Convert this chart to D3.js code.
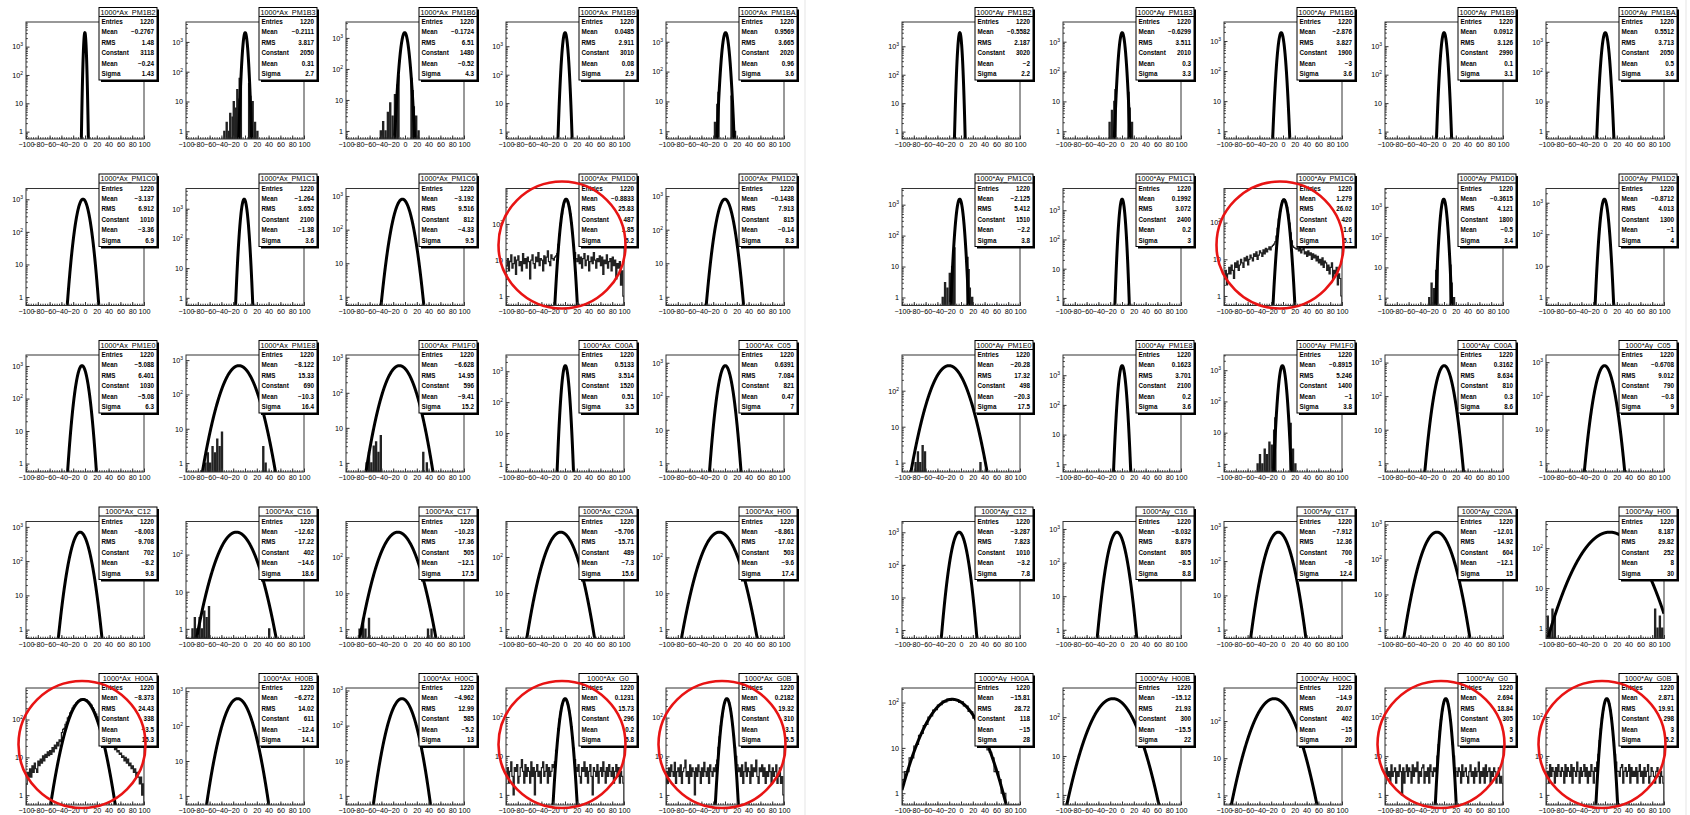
<!DOCTYPE html>
<html>
<head>
<meta charset="utf-8">
<script src="https://cdn.jsdelivr.net/npm/d3@7"></script>
<style>
  body { margin: 0; background: #fff; }
  text { font-family: "Liberation Sans", Arial, sans-serif; fill: #000; }
</style>
</head>
<body>
<svg id="canvas" width="1690" height="815"></svg>
<script>
// ---- panel titles ----
const axTitles = ["1000*Ax_PM1B2", "1000*Ax_PM1B3", "1000*Ax_PM1B6", "1000*Ax_PM1B9", "1000*Ax_PM1BA",
  "1000*Ax_PM1C0", "1000*Ax_PM1C1", "1000*Ax_PM1C6", "1000*Ax_PM1D0", "1000*Ax_PM1D2",
  "1000*Ax_PM1E0", "1000*Ax_PM1E8", "1000*Ax_PM1F0", "1000*Ax_C00A", "1000*Ax_C05",
  "1000*Ax_C12", "1000*Ax_C16", "1000*Ax_C17", "1000*Ax_C20A", "1000*Ax_H00",
  "1000*Ax_H00A", "1000*Ax_H00B", "1000*Ax_H00C", "1000*Ax_G0", "1000*Ax_G0B"];
const ayTitles = ["1000*Ay_PM1B2", "1000*Ay_PM1B3", "1000*Ay_PM1B6", "1000*Ay_PM1B9", "1000*Ay_PM1BA",
  "1000*Ay_PM1C0", "1000*Ay_PM1C1", "1000*Ay_PM1C6", "1000*Ay_PM1D0", "1000*Ay_PM1D2",
  "1000*Ay_PM1E0", "1000*Ay_PM1E8", "1000*Ay_PM1F0", "1000*Ay_C00A", "1000*Ay_C05",
  "1000*Ay_C12", "1000*Ay_C16", "1000*Ay_C17", "1000*Ay_C20A", "1000*Ay_H00",
  "1000*Ay_H00A", "1000*Ay_H00B", "1000*Ay_H00C", "1000*Ay_G0", "1000*Ay_G0B"];

// ---- stats: entries, histogram mean, RMS ----
const axEntries = [1220, 1220, 1220, 1220, 1220, 1220, 1220, 1220, 1220, 1220, 1220, 1220, 1220, 1220, 1220,
  1220, 1220, 1220, 1220, 1220, 1220, 1220, 1220, 1220, 1220];
const axHMean = [-0.2767, -0.2111, -0.1724, 0.0485, 0.9569, -3.137, -1.264, -3.192, -0.8833, -0.1438,
  -5.088, -8.122, -6.628, 0.5133, 0.6391, -8.003, -12.62, -10.23, -5.706, -8.861,
  -8.373, -6.272, -4.962, 0.1231, 0.2182];
const axRMS = [1.480, 3.817, 6.510, 2.911, 3.665, 6.912, 3.652, 9.516, 25.83, 7.913,
  6.401, 15.33, 14.95, 3.514, 7.084, 9.708, 17.22, 17.36, 15.71, 17.02,
  24.43, 14.02, 12.99, 15.73, 19.32];
const ayEntries = axEntries;
const ayHMean = [-0.5582, -0.6299, -2.876, 0.0912, 0.5512, -2.125, 0.1992, 1.279, -0.3615, -0.8712,
  -20.28, 0.1623, -0.8915, 0.3162, -0.6708, -3.287, -8.032, -7.912, -12.01, 8.187,
  -15.81, -15.12, -14.90, 2.694, 2.871];
const ayRMS = [2.187, 3.511, 3.827, 3.126, 3.713, 5.412, 3.072, 26.02, 4.121, 4.013,
  17.32, 3.701, 5.246, 8.634, 9.012, 7.823, 8.879, 12.36, 14.92, 29.82,
  28.72, 21.93, 20.07, 18.84, 19.91];

// ---- gaussian fit results: Constant, Mean, Sigma ----
const axConst = [3118, 2050, 1480, 3010, 2020, 1010, 2100, 812, 487, 815,
  1030, 690, 596, 1520, 821, 702, 402, 505, 489, 503,
  338, 611, 585, 296, 310];
const axMean = [-0.24, 0.31, -0.52, 0.08, 0.96, -3.36, -1.38, -4.33, 1.85, -0.14,
  -5.08, -10.3, -9.41, 0.51, 0.47, -8.2, -14.6, -12.1, -7.3, -9.6,
  -3.5, -12.4, -5.2, 0.2, 3.1];
const axSigma = [1.43, 2.7, 4.3, 2.9, 3.6, 6.9, 3.6, 9.5, 5.2, 8.3,
  6.3, 16.4, 15.2, 3.5, 7.0, 9.8, 18.6, 17.5, 15.6, 17.4,
  15.3, 14.1, 13.0, 5.8, 5.5];
const ayConst = [3020, 2010, 1900, 2990, 2050, 1510, 2400, 420, 1800, 1300,
  498, 2100, 1400, 810, 790, 1010, 805, 700, 604, 252,
  118, 300, 402, 305, 298];
const ayMean = [-2.0, 0.3, -3.0, 0.1, 0.5, -2.2, 0.2, 1.6, -0.5, -1.0,
  -20.3, 0.2, -1.0, 0.3, -0.8, -3.2, -8.5, -8.0, -12.1, 8.0,
  -15.0, -15.5, -15.0, 3.0, 3.0];
const aySigma = [2.2, 3.3, 3.6, 3.1, 3.6, 3.8, 3.0, 5.1, 3.4, 4.0,
  17.5, 3.6, 3.8, 8.6, 9.0, 7.8, 8.8, 12.4, 15.0, 30.0,
  28.0, 22.0, 20.0, 5.0, 5.2];

// ---- histogram contents where they show outside the fit ----
// full histograms, equal bins over -100..100
const histAx8 = [7, 11, 5, 9, 14, 6, 8, 12, 4, 10, 13, 7, 9, 5, 15, 8, 11, 6, 12, 9,
  3, 10, 14, 8, 6, 12, 9, 16, 7, 11, 10, 5, 13, 8, 12, 18, 9, 7, 14, 11,
  10, 12, 13, 15, 27, 52, 105, 190, 297, 410, 480, 480, 410, 297, 192, 108, 55, 26, 16, 11,
  9, 14, 8, 12, 6, 11, 15, 7, 10, 13, 5, 9, 12, 8, 16, 10, 6, 11, 9, 13,
  7, 12, 4, 10, 8, 14, 6, 9, 11, 5, 12, 7, 10, 3, 8, 6, 9, 2, 5, 1];
const histAx20 = [2, 4, 3, 5, 3, 6, 4, 7, 5, 4, 8, 6, 9, 7, 11, 8, 12, 10, 14, 11,
  15, 12, 18, 14, 21, 17, 25, 20, 29, 26, 45, 55, 58, 75, 85, 110, 122, 150, 168, 199,
  225, 244, 272, 290, 318, 326, 345, 348, 356, 344, 338, 331, 306, 288, 259, 240, 207, 186, 157, 139,
  118, 95, 84, 66, 58, 44, 40, 30, 29, 24, 26, 22, 24, 19, 21, 16, 18, 14, 15, 12,
  13, 10, 11, 8, 10, 7, 9, 6, 7, 5, 6, 4, 5, 3, 4, 3, 2, 3, 1, 2];
const histAx23 = [3, 5, 2, 4, 7, 3, 1, 5, 4, 6, 2, 3, 5, 8, 4, 2, 6, 3, 5, 4,
  2, 7, 3, 5, 1, 4, 6, 3, 4, 2, 5, 7, 3, 4, 6, 2, 5, 3, 4, 6,
  5, 7, 14, 25, 50, 88, 140, 198, 255, 290, 294, 263, 210, 148, 94, 57, 29, 16, 8, 5,
  4, 6, 3, 2, 5, 4, 7, 3, 5, 2, 4, 6, 3, 1, 5, 4, 3, 6, 2, 4,
  5, 3, 7, 4, 2, 5, 3, 6, 4, 3, 5, 2, 4, 6, 3, 5, 2, 4, 3, 2];
const histAx24 = [4, 2, 5, 3, 6, 4, 3, 7, 2, 4, 5, 3, 6, 2, 4, 5, 8, 3, 4, 2,
  6, 3, 5, 4, 1, 5, 3, 6, 4, 2, 5, 3, 7, 4, 3, 5, 2, 6, 4, 3, 5,
  4, 6, 8, 17, 32, 61, 105, 168, 235, 288, 310, 292, 241, 175, 110, 65, 35, 17, 10, 6, 4,
  5, 3, 6, 2, 4, 7, 3, 5, 4, 2, 6, 3, 5, 4, 8, 3, 2, 5, 4,
  6, 3, 5, 2, 4, 3, 6, 4, 2, 5, 3, 4, 6, 2, 3, 5, 2, 3, 1];
const histAy7 = [3, 5, 2, 4, 6, 4, 7, 5, 3, 8, 6, 9, 5, 7, 10, 8, 6, 11, 9, 12,
  7, 10, 13, 11, 9, 14, 12, 16, 10, 13, 17, 15, 12, 18, 14, 20, 16, 19, 22, 18,
  22, 24, 26, 30, 43, 70, 124, 205, 300, 390, 437, 425, 357, 260, 167, 97, 53, 32, 23, 21, 20,
  19, 22, 17, 20, 15, 18, 21, 14, 16, 12, 17, 13, 15, 10, 14, 11, 13, 9, 12, 8,
  10, 7, 11, 6, 9, 8, 5, 7, 4, 6, 8, 3, 5, 4, 6, 2, 4, 3, 1];
const histAy20 = [2, 3, 3, 6, 6, 11, 12, 19, 21, 31, 33, 48, 51, 68, 70, 88, 90, 107, 104, 119,
  112, 122, 111, 116, 101, 103, 84, 83, 64, 62, 45, 42, 29, 27, 17, 16, 9, 8, 6, 3,
  3, 2, 1, 1, 0, 0, 0, 0, 0, 0];
const histAy23 = [2, 5, 3, 4, 2, 6, 3, 4, 5, 2, 4, 3, 6, 4, 1, 5, 2, 4, 6, 3,
  5, 4, 2, 6, 3, 5, 4, 7, 2, 4, 3, 5, 6, 2, 4, 3, 5, 2, 6, 4, 3, 5,
  4, 5, 10, 20, 45, 88, 149, 221, 282, 305, 282, 221, 149, 88, 45, 20, 10, 5, 4,
  3, 5, 4, 2, 6, 3, 4, 5, 3, 2, 4, 6, 3, 4, 2, 5, 3, 4, 7, 2,
  4, 3, 5, 2, 6, 3, 4, 5, 2, 4, 3, 5, 4, 2, 3, 5, 2, 3, 2];
const histAy24 = [3, 4, 2, 6, 3, 5, 4, 2, 5, 3, 6, 4, 3, 5, 4, 2, 6, 3, 5, 4,
  3, 6, 2, 5, 4, 3, 7, 4, 2, 5, 3, 4, 6, 3, 5, 2, 4, 3, 6, 4, 2, 5,
  4, 7, 11, 25, 50, 95, 153, 221, 277, 298, 277, 221, 153, 95, 50, 25, 11, 7, 4,
  4, 3, 5, 6, 2, 4, 5, 3, 4, 6, 2, 5, 3, 4, 3, 5, 2, 4, 6, 3,
  4, 2, 5, 3, 4, 6, 2, 3, 5, 4, 3, 2, 4, 5, 3, 2, 4, 3, 2];

// isolated bins (centre, count), bin width 2
const spikesAx1 = [[-35, 1], [-31, 2], [-27, 1], [-25, 4], [-21, 3], [-19, 10], [-15, 6], [-13, 25], [-11, 12],
  [-9, 60], [-7, 30], [7, 40], [9, 15], [11, 6], [13, 10], [17, 2], [21, 1]];
const spikesAx2 = [[-41, 1], [-37, 2], [-33, 1], [-29, 4], [-25, 8], [-21, 3], [-17, 15], [-13, 30], [-11, 60],
  [11, 50], [13, 20], [15, 6], [19, 3], [23, 1]];
const spikesAx4 = [[-17, 2], [-13, 8], [-11, 20], [11, 15], [13, 5], [17, 1]];
const spikesAx11 = [[-67, 1], [-63, 2], [-59, 1], [-55, 3], [-51, 2], [-47, 5], [-43, 3], [-39, 8], [31, 3], [35, 1]];
const spikesAx12 = [[-65, 1], [-61, 2], [-57, 1], [-53, 3], [-49, 4], [-45, 2], [-41, 6], [31, 2], [37, 1]];
const spikesAx16 = [[-89, 1], [-85, 2], [-81, 1], [-77, 2], [-73, 1], [-69, 3], [-65, 2], [-61, 4], [41, 1]];
const spikesAx17 = [[-77, 1], [-71, 2], [-67, 1], [-61, 2], [39, 1], [45, 1]];
const spikesAy1 = [[-21, 2], [-17, 5], [-13, 10], [-11, 25], [11, 20], [13, 6], [17, 2]];
const spikesAy5 = [[-31, 1], [-27, 3], [-23, 2], [-19, 6], [-15, 10], [-13, 25], [-11, 40], [11, 20], [13, 8], [15, 2], [19, 1]];
const spikesAy8 = [[-25, 1], [-21, 3], [-17, 2], [-13, 8], [-11, 15], [11, 12], [13, 3], [17, 1]];
const spikesAy10 = [[-77, 1], [-73, 2], [-69, 1], [-65, 3], [-61, 2], [33, 1]];
const spikesAy12 = [[-43, 1], [-39, 2], [-35, 1], [-31, 3], [-27, 2], [-23, 5], [-19, 4], [-15, 12], [-13, 30],
  [13, 20], [17, 3], [21, 1]];
const spikesAy19 = [[-97, 2], [-93, 1], [-89, 3], [-85, 2], [85, 3], [89, 1], [93, 2], [97, 1]];

const xTicks = [-100, -80, -60, -40, -20, 0, 20, 40, 60, 80, 100];
const circledAx = [8, 20, 23, 24];
const circledAy = [7, 23, 24];

const denseAx = {8: histAx8, 20: histAx20, 23: histAx23, 24: histAx24};
const denseAy = {7: histAy7, 20: histAy20, 23: histAy23, 24: histAy24};
const sparseAx = {1: spikesAx1, 2: spikesAx2, 4: spikesAx4, 11: spikesAx11, 12: spikesAx12, 16: spikesAx16, 17: spikesAx17};
const sparseAy = {1: spikesAy1, 5: spikesAy5, 8: spikesAy8, 10: spikesAy10, 12: spikesAy12, 19: spikesAy19};

const grids = [
  {titles: axTitles, ent: axEntries, hm: axHMean, rms: axRMS, c: axConst, m: axMean, s: axSigma,
   dense: denseAx, sparse: sparseAx, circled: circledAx, left: 26, right: 666},
  {titles: ayTitles, ent: ayEntries, hm: ayHMean, rms: ayRMS, c: ayConst, m: ayMean, s: aySigma,
   dense: denseAy, sparse: sparseAy, circled: circledAy, left: 902, right: 1546}
];

const svg = d3.select("#canvas");
const fW = 118, fH = 117;
const yLow = 0.55;
const rowY = d3.scaleLinear().domain([0, 4]).range([22, 688]);

// faint pad borders of the two canvases
svg.append("line").attr("x1", 805).attr("x2", 805).attr("y1", 0).attr("y2", 815)
  .attr("stroke", "#eeeeee").attr("stroke-width", 1.5);
svg.append("line").attr("x1", 1686).attr("x2", 1686).attr("y1", 0).attr("y2", 815)
  .attr("stroke", "#eeeeee").attr("stroke-width", 1.5);

grids.forEach((grid, gi) => {
  const colX = d3.scaleLinear().domain([0, 4]).range([grid.left, grid.right]);
  d3.range(25).forEach(i => {
    const r = Math.floor(i / 5), c = i % 5;
    const g = svg.append("g").attr("transform", `translate(${colX(c)},${rowY(r)})`);
    drawPanel(g, {
      id: gi + "_" + i,
      title: grid.titles[i], entries: grid.ent[i], hmean: grid.hm[i], rms: grid.rms[i],
      C: grid.c[i], mean: grid.m[i], sigma: grid.s[i],
      dense: grid.dense[i], sparse: grid.sparse[i],
      circled: grid.circled.includes(i)
    });
  });
});

function gauss(p, v) {
  const z = (v - p.mean) / p.sigma;
  return p.C * Math.exp(-0.5 * z * z);
}

function drawPanel(g, p) {
  const x = d3.scaleLinear().domain([-100, 100]).range([0, fW]);
  let maxVal = p.C;
  if (p.dense) maxVal = Math.max(maxVal, d3.max(p.dense));
  if (p.sparse) maxVal = Math.max(maxVal, d3.max(p.sparse, d => d[1]));
  const lo = Math.log10(yLow), hi = Math.log10(maxVal);
  const top = Math.pow(10, hi + 0.1 * (hi - lo));
  const y = d3.scaleLog().domain([yLow, top]).range([fH, 0]);
  const yc = v => y(Math.max(v, yLow * 0.3));

  const clipId = "clip" + p.id;
  g.append("clipPath").attr("id", clipId).append("rect")
    .attr("x", 0).attr("y", 0).attr("width", fW).attr("height", fH);
  const plot = g.append("g").attr("clip-path", `url(#${clipId})`);

  // histogram
  if (p.dense) {
    const w = 200 / p.dense.length;
    let path = `M${x(-100)},${fH}`;
    p.dense.forEach((v, k) => {
      const yy = v > 0 ? yc(v) : fH;
      path += `V${yy}H${x(-100 + (k + 1) * w)}`;
    });
    path += `V${fH}`;
    plot.append("path").attr("d", path).attr("fill", "none")
      .attr("stroke", "#222").attr("stroke-width", 1.2);
  }
  if (p.sparse) {
    plot.selectAll("path.spike").data(p.sparse).join("path")
      .attr("class", "spike")
      .attr("d", d => `M${x(d[0] - 1)},${fH}V${yc(d[1])}H${x(d[0] + 1)}V${fH}`)
      .attr("fill", "none").attr("stroke", "#222").attr("stroke-width", 1.2);
  }

  // gaussian fit curve
  const xs = d3.range(-100, 100.01, 0.25);
  const line = d3.line().x(v => x(v)).y(v => yc(gauss(p, v)));
  plot.append("path").attr("d", line(xs)).attr("fill", "none")
    .attr("stroke", "#000").attr("stroke-width", 3).attr("stroke-linejoin", "round");

  // frame
  g.append("rect").attr("width", fW).attr("height", fH)
    .attr("fill", "none").attr("stroke", "#333").attr("stroke-width", 1);

  // x axis
  const xAxis = g.append("g").attr("transform", `translate(0,${fH})`)
    .call(d3.axisBottom(x).tickValues(xTicks).tickSize(-3.5).tickPadding(3).tickFormat(d3.format("d")));
  xAxis.select(".domain").remove();
  xAxis.selectAll("text").attr("font-size", 7.2).attr("font-family", "Liberation Sans, Arial, sans-serif");
  const xMinor = g.append("g").attr("transform", `translate(0,${fH})`)
    .call(d3.axisBottom(x).tickValues(d3.range(-100, 101, 4)).tickSize(-1.8).tickFormat(""));
  xMinor.select(".domain").remove();

  // y axis (log)
  const decades = d3.range(0, Math.floor(Math.log10(top)) + 1).map(k => Math.pow(10, k));
  const yAxis = g.append("g")
    .call(d3.axisLeft(y).tickValues(decades).tickSize(-3.5).tickPadding(3).tickFormat(d => d));
  yAxis.select(".domain").remove();
  yAxis.selectAll("text").each(function (d) {
    const t = d3.select(this).text("").attr("font-size", 7.2)
      .attr("font-family", "Liberation Sans, Arial, sans-serif");
    const k = Math.round(Math.log10(d));
    if (k === 0) t.text("1");
    else if (k === 1) t.text("10");
    else {
      t.append("tspan").text("10");
      t.append("tspan").attr("dy", -3).attr("font-size", 5).text(k);
    }
  });
  const minors = [];
  for (let k = -1; k <= Math.floor(Math.log10(top)); k++) {
    for (let mm = 2; mm <= 9; mm++) {
      const v = mm * Math.pow(10, k);
      if (v > yLow && v < top) minors.push(v);
    }
  }
  const yMinor = g.append("g")
    .call(d3.axisLeft(y).tickValues(minors).tickSize(-1.8).tickFormat(""));
  yMinor.select(".domain").remove();
  g.selectAll(".tick line").attr("stroke", "#333");

  // stats box
  const bx = fW - 45, by = -14.5, bw = 58, bh = 72.5;
  const box = g.append("g").attr("transform", `translate(${bx},${by})`);
  box.append("rect").attr("x", 2).attr("y", 2).attr("width", bw).attr("height", bh).attr("fill", "#000");
  box.append("rect").attr("width", bw).attr("height", bh).attr("fill", "#fff")
    .attr("stroke", "#000").attr("stroke-width", 1);
  box.append("line").attr("x1", 0).attr("x2", bw).attr("y1", 9).attr("y2", 9)
    .attr("stroke", "#000").attr("stroke-width", 1);
  const tt = box.append("text").attr("x", bw / 2).attr("y", 7).attr("text-anchor", "middle")
    .attr("font-size", 7.4).text(p.title);
  const tl = tt.node().getComputedTextLength();
  if (tl > bw - 3) tt.attr("textLength", bw - 3).attr("lengthAdjust", "spacingAndGlyphs");

  const rows = [
    ["Entries", String(p.entries)],
    ["Mean", d3.format(".4")(p.hmean)],
    ["RMS", d3.format(".4")(p.rms)],
    ["Constant", d3.format(".4")(p.C)],
    ["Mean", d3.format(".4")(p.mean)],
    ["Sigma", d3.format(".4")(p.sigma)]
  ];
  const ry = d3.scaleLinear().domain([0, 5]).range([16.5, 68.5]);
  rows.forEach((row, k) => {
    box.append("text").attr("x", 2.5).attr("y", ry(k)).attr("font-size", 6.3)
      .attr("font-weight", "bold").text(row[0]);
    box.append("text").attr("x", bw - 3).attr("y", ry(k)).attr("font-size", 6.3)
      .attr("font-weight", "bold").attr("text-anchor", "end").text(row[1]);
  });

  // red marker circle
  if (p.circled) {
    g.append("circle").attr("cx", fW / 2 - 3).attr("cy", fH / 2 - 2).attr("r", 63.5)
      .attr("fill", "none").attr("stroke", "#e81414").attr("stroke-width", 2.6);
  }
}
</script>
</body>
</html>
